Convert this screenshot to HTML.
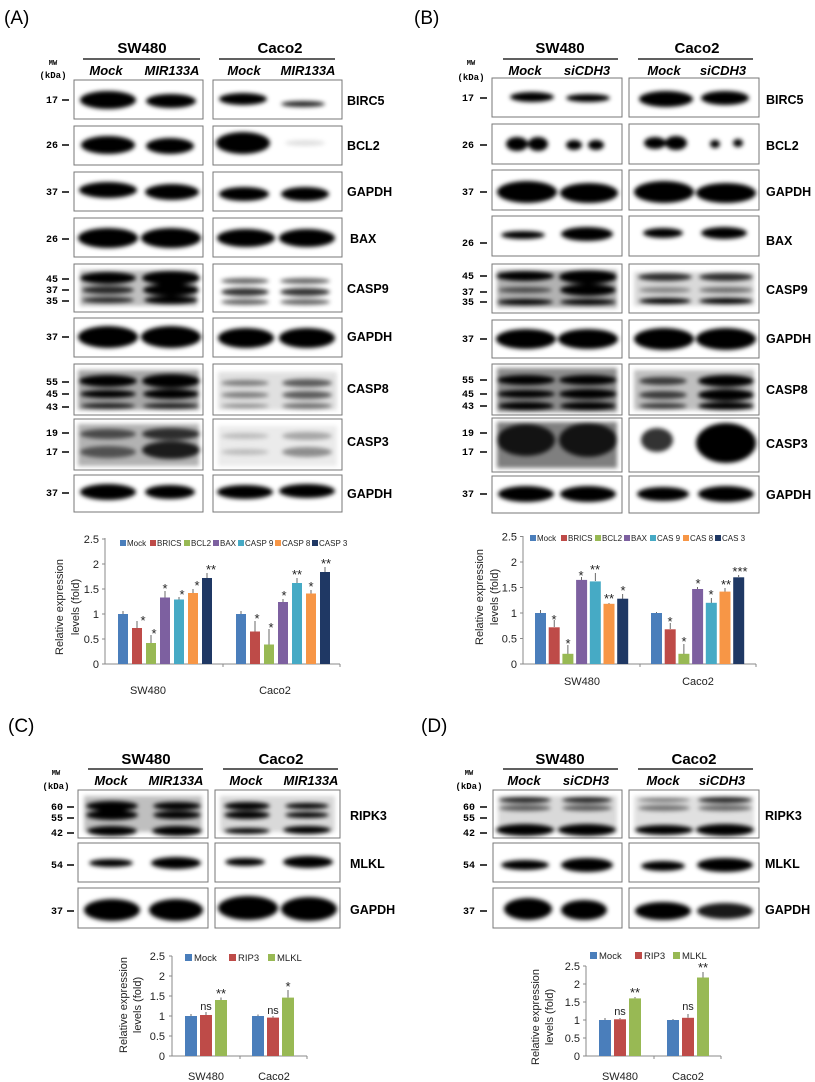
<!DOCTYPE html>
<html><head><meta charset="utf-8"><style>
html,body{margin:0;padding:0;background:#fff;}
svg{display:block;font-family:"Liberation Sans",sans-serif;}
.pl{font-size:19px;}
.t{font-size:15px;font-weight:bold;text-anchor:middle;}
.ln{font-size:13px;font-weight:bold;font-style:italic;text-anchor:middle;}
.mw{font-family:"Liberation Mono",monospace;font-size:10px;font-weight:bold;text-anchor:middle;}
.n{font-family:"Liberation Mono",monospace;font-size:10px;font-weight:bold;text-anchor:end;}
.lb{font-size:12.5px;font-weight:bold;}
.ax{font-size:11px;fill:#222;}
.tk{font-size:11px;fill:#222;text-anchor:end;}
.lg{font-size:8px;fill:#222;}
.st{font-size:13px;text-anchor:middle;fill:#222;}
.box{fill:#fff;stroke:#777;stroke-width:1;}
</style></head><body>
<svg width="815" height="1082" viewBox="0 0 815 1082" xmlns="http://www.w3.org/2000/svg">
<defs>
<filter id="b" x="-30%" y="-100%" width="160%" height="300%"><feGaussianBlur stdDeviation="2.2"/></filter>
</defs>
<rect width="815" height="1082" fill="#fff"/>

<!-- ================= PANEL A ================= -->
<text class="pl" x="4" y="24">(A)</text>
<text class="t" x="142" y="53">SW480</text>
<line x1="83" y1="59" x2="200" y2="59" stroke="#000" stroke-width="1.3"/>
<text class="t" x="280" y="53">Caco2</text>
<line x1="219" y1="59" x2="335" y2="59" stroke="#000" stroke-width="1.3"/>
<text class="ln" x="106" y="75">Mock</text><text class="ln" x="172" y="75">MIR133A</text>
<text class="ln" x="244" y="75">Mock</text><text class="ln" x="308" y="75">MIR133A</text>
<text class="mw" x="53" y="65" style="font-size:7px">MW</text><text class="mw" x="53" y="78" style="font-size:9px">(kDa)</text>

<g>
<rect class="box" x="74" y="80" width="129" height="39"/><rect class="box" x="213" y="80" width="129" height="39"/>
<rect class="box" x="74" y="126" width="129" height="39"/><rect class="box" x="213" y="126" width="129" height="39"/>
<rect class="box" x="74" y="172" width="129" height="39"/><rect class="box" x="213" y="172" width="129" height="39"/>
<rect class="box" x="74" y="218" width="129" height="39"/><rect class="box" x="213" y="218" width="129" height="39"/>
<rect class="box" x="74" y="264" width="129" height="48"/><rect class="box" x="213" y="264" width="129" height="48"/>
<rect class="box" x="74" y="318" width="129" height="39"/><rect class="box" x="213" y="318" width="129" height="39"/>
<rect class="box" x="74" y="364" width="129" height="51"/><rect class="box" x="213" y="364" width="129" height="51"/>
<rect class="box" x="74" y="419" width="129" height="51"/><rect class="box" x="213" y="419" width="129" height="51"/>
<rect class="box" x="74" y="475" width="129" height="37"/><rect class="box" x="213" y="475" width="129" height="37"/>
</g>
<g filter="url(#b)" fill="#000">
<ellipse cx="108" cy="100" rx="28" ry="9"/><ellipse cx="171" cy="101" rx="25" ry="7"/>
<ellipse cx="243" cy="99" rx="24" ry="6"/><ellipse cx="303" cy="104" rx="22" ry="3" opacity=".85"/>
<ellipse cx="108" cy="145" rx="27" ry="9"/><ellipse cx="170" cy="146" rx="24" ry="8"/>
<ellipse cx="243" cy="143" rx="27" ry="11"/><ellipse cx="305" cy="143" rx="20" ry="3" opacity=".12"/>
<ellipse cx="108" cy="190" rx="29" ry="8"/><ellipse cx="172" cy="192" rx="27" ry="8"/>
<ellipse cx="244" cy="194" rx="25" ry="7"/><ellipse cx="305" cy="194" rx="24" ry="7"/>
<ellipse cx="108" cy="238" rx="30" ry="10"/><ellipse cx="171" cy="238" rx="30" ry="10"/>
<ellipse cx="246" cy="238" rx="29" ry="9"/><ellipse cx="307" cy="238" rx="28" ry="9"/>
<rect x="80" y="270" width="117" height="36" opacity=".25"/>
<ellipse cx="108" cy="278" rx="28" ry="6"/><ellipse cx="171" cy="278" rx="29" ry="7"/>
<ellipse cx="108" cy="290" rx="26" ry="4" opacity=".8"/><ellipse cx="171" cy="290" rx="28" ry="6"/>
<ellipse cx="108" cy="300" rx="26" ry="3" opacity=".8"/><ellipse cx="171" cy="300" rx="27" ry="4"/>
<ellipse cx="245" cy="281" rx="24" ry="3" opacity=".6"/><ellipse cx="305" cy="281" rx="25" ry="3" opacity=".6"/>
<ellipse cx="245" cy="292" rx="24" ry="4" opacity=".8"/><ellipse cx="305" cy="292" rx="25" ry="4" opacity=".8"/>
<ellipse cx="245" cy="302" rx="24" ry="3" opacity=".6"/><ellipse cx="305" cy="302" rx="25" ry="3" opacity=".6"/>
<ellipse cx="108" cy="337" rx="30" ry="11"/><ellipse cx="171" cy="337" rx="30" ry="11"/>
<ellipse cx="246" cy="338" rx="28" ry="10"/><ellipse cx="307" cy="338" rx="28" ry="10"/>
<rect x="78" y="370" width="121" height="40" opacity=".35"/>
<ellipse cx="108" cy="381" rx="29" ry="6"/><ellipse cx="171" cy="381" rx="29" ry="7"/>
<ellipse cx="108" cy="394" rx="28" ry="4"/><ellipse cx="171" cy="394" rx="28" ry="5"/>
<ellipse cx="108" cy="406" rx="27" ry="3" opacity=".8"/><ellipse cx="171" cy="406" rx="28" ry="3" opacity=".8"/>
<rect x="218" y="372" width="119" height="38" opacity=".12"/>
<ellipse cx="245" cy="383" rx="24" ry="3" opacity=".45"/><ellipse cx="307" cy="383" rx="25" ry="4" opacity=".6"/>
<ellipse cx="245" cy="395" rx="24" ry="3" opacity=".45"/><ellipse cx="307" cy="395" rx="25" ry="4" opacity=".6"/>
<ellipse cx="245" cy="406" rx="24" ry="2" opacity=".4"/><ellipse cx="307" cy="406" rx="25" ry="3" opacity=".5"/>
<rect x="78" y="424" width="121" height="42" opacity=".3"/>
<ellipse cx="108" cy="434" rx="28" ry="5" opacity=".6"/><ellipse cx="171" cy="434" rx="29" ry="6" opacity=".75"/>
<ellipse cx="108" cy="452" rx="28" ry="6" opacity=".55"/><ellipse cx="171" cy="450" rx="29" ry="9" opacity=".85"/>
<rect x="218" y="426" width="119" height="40" opacity=".08"/>
<ellipse cx="245" cy="436" rx="24" ry="3" opacity=".2"/><ellipse cx="307" cy="436" rx="25" ry="4" opacity=".3"/>
<ellipse cx="245" cy="452" rx="24" ry="3" opacity=".2"/><ellipse cx="307" cy="452" rx="25" ry="5" opacity=".4"/>
<ellipse cx="108" cy="492" rx="28" ry="8"/><ellipse cx="170" cy="492" rx="25" ry="7"/>
<ellipse cx="245" cy="492" rx="28" ry="7"/><ellipse cx="307" cy="491" rx="28" ry="7"/>
</g>
<g>
<text class="n" x="58" y="103">17</text><line x1="62" y1="100" x2="69" y2="100" stroke="#000" stroke-width="1.5"/>
<text class="n" x="58" y="148">26</text><line x1="62" y1="145" x2="69" y2="145" stroke="#000" stroke-width="1.5"/>
<text class="n" x="58" y="195">37</text><line x1="62" y1="192" x2="69" y2="192" stroke="#000" stroke-width="1.5"/>
<text class="n" x="58" y="242">26</text><line x1="62" y1="239" x2="69" y2="239" stroke="#000" stroke-width="1.5"/>
<text class="n" x="58" y="282">45</text><line x1="62" y1="279" x2="69" y2="279" stroke="#000" stroke-width="1.5"/>
<text class="n" x="58" y="293">37</text><line x1="62" y1="290" x2="69" y2="290" stroke="#000" stroke-width="1.5"/>
<text class="n" x="58" y="304">35</text><line x1="62" y1="301" x2="69" y2="301" stroke="#000" stroke-width="1.5"/>
<text class="n" x="58" y="340">37</text><line x1="62" y1="337" x2="69" y2="337" stroke="#000" stroke-width="1.5"/>
<text class="n" x="58" y="385">55</text><line x1="62" y1="382" x2="69" y2="382" stroke="#000" stroke-width="1.5"/>
<text class="n" x="58" y="397">45</text><line x1="62" y1="394" x2="69" y2="394" stroke="#000" stroke-width="1.5"/>
<text class="n" x="58" y="410">43</text><line x1="62" y1="407" x2="69" y2="407" stroke="#000" stroke-width="1.5"/>
<text class="n" x="58" y="436">19</text><line x1="62" y1="433" x2="69" y2="433" stroke="#000" stroke-width="1.5"/>
<text class="n" x="58" y="455">17</text><line x1="62" y1="452" x2="69" y2="452" stroke="#000" stroke-width="1.5"/>
<text class="n" x="58" y="496">37</text><line x1="62" y1="493" x2="69" y2="493" stroke="#000" stroke-width="1.5"/>
</g>
<text class="lb" x="347" y="105">BIRC5</text><text class="lb" x="347" y="150">BCL2</text><text class="lb" x="347" y="196">GAPDH</text>
<text class="lb" x="350" y="243">BAX</text><text class="lb" x="347" y="293">CASP9</text><text class="lb" x="347" y="341">GAPDH</text>
<text class="lb" x="347" y="393">CASP8</text><text class="lb" x="347" y="446">CASP3</text><text class="lb" x="347" y="498">GAPDH</text>

<!-- Chart A -->
<g>
<line x1="105" y1="538" x2="105" y2="664" stroke="#888"/>
<line x1="105" y1="664" x2="340" y2="664" stroke="#888"/>
<line x1="223" y1="664" x2="223" y2="667" stroke="#888"/><line x1="340" y1="664" x2="340" y2="667" stroke="#888"/>
<g stroke="#888"><line x1="102" y1="664" x2="105" y2="664"/><line x1="102" y1="639" x2="105" y2="639"/><line x1="102" y1="614" x2="105" y2="614"/><line x1="102" y1="589" x2="105" y2="589"/><line x1="102" y1="564" x2="105" y2="564"/><line x1="102" y1="539" x2="105" y2="539"/></g>
<text class="tk" x="99" y="668">0</text><text class="tk" x="99" y="643">0.5</text><text class="tk" x="99" y="618">1</text><text class="tk" x="99" y="593">1.5</text><text class="tk" x="99" y="568">2</text><text class="tk" x="99" y="543">2.5</text>
<text class="ax" text-anchor="middle" transform="translate(63,607) rotate(-90)">Relative expression</text>
<text class="ax" text-anchor="middle" transform="translate(79,607) rotate(-90)">levels (fold)</text>
<text class="ax" x="148" y="694" text-anchor="middle">SW480</text><text class="ax" x="275" y="694" text-anchor="middle">Caco2</text>
<g class="lg">
<rect x="120" y="540" width="6" height="6" fill="#4a7ebb"/><text x="127" y="546">Mock</text>
<rect x="150" y="540" width="6" height="6" fill="#be4b48"/><text x="157" y="546">BRICS</text>
<rect x="184" y="540" width="6" height="6" fill="#98b954"/><text x="191" y="546">BCL2</text>
<rect x="213" y="540" width="6" height="6" fill="#7d60a0"/><text x="220" y="546">BAX</text>
<rect x="238" y="540" width="6" height="6" fill="#46aac5"/><text x="245" y="546">CASP 9</text>
<rect x="275" y="540" width="6" height="6" fill="#f79646"/><text x="282" y="546">CASP 8</text>
<rect x="312" y="540" width="6" height="6" fill="#1f3864"/><text x="319" y="546">CASP 3</text>
</g>
<g stroke="#444" stroke-width="0.8">
<line x1="123" y1="614" x2="123" y2="611"/><line x1="137" y1="628" x2="137" y2="621"/><line x1="151" y1="643" x2="151" y2="635"/><line x1="165" y1="597.5" x2="165" y2="591"/><line x1="179" y1="599.5" x2="179" y2="597"/><line x1="193" y1="593" x2="193" y2="589"/><line x1="207" y1="578" x2="207" y2="573"/>
<line x1="241" y1="614" x2="241" y2="611"/><line x1="255" y1="631.5" x2="255" y2="621"/><line x1="269" y1="644.5" x2="269" y2="629"/><line x1="283" y1="602" x2="283" y2="599"/><line x1="297" y1="583" x2="297" y2="578"/><line x1="311" y1="593.5" x2="311" y2="590"/><line x1="325" y1="572" x2="325" y2="567"/>
</g>
<rect x="118" y="614" width="10" height="50" fill="#4a7ebb"/><rect x="132" y="628" width="10" height="36" fill="#be4b48"/><rect x="146" y="643" width="10" height="21" fill="#98b954"/><rect x="160" y="597.5" width="10" height="66.5" fill="#7d60a0"/><rect x="174" y="599.5" width="10" height="64.5" fill="#46aac5"/><rect x="188" y="593" width="10" height="71" fill="#f79646"/><rect x="202" y="578" width="10" height="86" fill="#1f3864"/>
<rect x="236" y="614" width="10" height="50" fill="#4a7ebb"/><rect x="250" y="631.5" width="10" height="32.5" fill="#be4b48"/><rect x="264" y="644.5" width="10" height="19.5" fill="#98b954"/><rect x="278" y="602" width="10" height="62" fill="#7d60a0"/><rect x="292" y="583" width="10" height="81" fill="#46aac5"/><rect x="306" y="593.5" width="10" height="70.5" fill="#f79646"/><rect x="320" y="572" width="10" height="92" fill="#1f3864"/>
<g class="st">
<text x="143" y="625">*</text><text x="154" y="638">*</text><text x="165" y="593">*</text><text x="182" y="599">*</text><text x="197" y="590">*</text><text x="211" y="574">**</text>
<text x="257" y="623">*</text><text x="271" y="632">*</text><text x="284" y="600">*</text><text x="297" y="579">**</text><text x="311" y="591">*</text><text x="326" y="568">**</text>
</g>
</g>

<!-- ================= PANEL B ================= -->
<text class="pl" x="414" y="24">(B)</text>
<text class="t" x="560" y="53">SW480</text>
<line x1="503" y1="59" x2="618" y2="59" stroke="#000" stroke-width="1.3"/>
<text class="t" x="697" y="53">Caco2</text>
<line x1="638" y1="59" x2="753" y2="59" stroke="#000" stroke-width="1.3"/>
<text class="ln" x="525" y="75">Mock</text><text class="ln" x="587" y="75">siCDH3</text>
<text class="ln" x="664" y="75">Mock</text><text class="ln" x="723" y="75">siCDH3</text>
<text class="mw" x="471" y="65" style="font-size:7px">MW</text><text class="mw" x="471" y="80" style="font-size:9px">(kDa)</text>
<g>
<rect class="box" x="492" y="78" width="130" height="39"/><rect class="box" x="629" y="78" width="130" height="39"/>
<rect class="box" x="492" y="124" width="130" height="40"/><rect class="box" x="629" y="124" width="130" height="40"/>
<rect class="box" x="492" y="170" width="130" height="40"/><rect class="box" x="629" y="170" width="130" height="40"/>
<rect class="box" x="492" y="216" width="130" height="40"/><rect class="box" x="629" y="216" width="130" height="40"/>
<rect class="box" x="492" y="264" width="130" height="49"/><rect class="box" x="629" y="264" width="130" height="49"/>
<rect class="box" x="492" y="320" width="130" height="38"/><rect class="box" x="629" y="320" width="130" height="38"/>
<rect class="box" x="492" y="364" width="130" height="51"/><rect class="box" x="629" y="364" width="130" height="51"/>
<rect class="box" x="492" y="418" width="130" height="54"/><rect class="box" x="629" y="418" width="130" height="54"/>
<rect class="box" x="492" y="476" width="130" height="37"/><rect class="box" x="629" y="476" width="130" height="37"/>
</g>
<g filter="url(#b)" fill="#000">
<ellipse cx="532" cy="97" rx="22" ry="5"/><ellipse cx="588" cy="98" rx="22" ry="4"/>
<ellipse cx="666" cy="99" rx="27" ry="8"/><ellipse cx="725" cy="98" rx="24" ry="7"/>
<ellipse cx="517" cy="144" rx="11" ry="7"/><ellipse cx="538" cy="144" rx="10" ry="7"/><ellipse cx="574" cy="145" rx="8" ry="5"/><ellipse cx="596" cy="145" rx="8" ry="5"/>
<ellipse cx="655" cy="143" rx="11" ry="6"/><ellipse cx="676" cy="143" rx="11" ry="7"/><ellipse cx="715" cy="144" rx="5" ry="4"/><ellipse cx="738" cy="143" rx="5" ry="4"/>
<ellipse cx="527" cy="192" rx="30" ry="11"/><ellipse cx="589" cy="193" rx="29" ry="10"/>
<ellipse cx="664" cy="192" rx="30" ry="11"/><ellipse cx="726" cy="193" rx="30" ry="10"/>
<ellipse cx="523" cy="235" rx="22" ry="4"/><ellipse cx="587" cy="234" rx="26" ry="7"/>
<ellipse cx="663" cy="233" rx="20" ry="5"/><ellipse cx="724" cy="233" rx="23" ry="6"/>
<rect x="497" y="270" width="120" height="38" opacity=".3"/>
<ellipse cx="525" cy="276" rx="29" ry="5"/><ellipse cx="588" cy="277" rx="29" ry="7"/>
<ellipse cx="525" cy="290" rx="27" ry="3" opacity=".6"/><ellipse cx="588" cy="290" rx="28" ry="6"/>
<ellipse cx="525" cy="302" rx="28" ry="3"/><ellipse cx="588" cy="302" rx="28" ry="3"/>
<rect x="634" y="272" width="120" height="34" opacity=".15"/>
<ellipse cx="665" cy="277" rx="27" ry="4" opacity=".8"/><ellipse cx="726" cy="277" rx="27" ry="4" opacity=".8"/>
<ellipse cx="665" cy="290" rx="26" ry="3" opacity=".4"/><ellipse cx="726" cy="290" rx="27" ry="3" opacity=".5"/>
<ellipse cx="665" cy="301" rx="26" ry="3"/><ellipse cx="726" cy="301" rx="27" ry="3"/>
<ellipse cx="526" cy="339" rx="30" ry="10"/><ellipse cx="588" cy="339" rx="30" ry="10"/>
<ellipse cx="664" cy="339" rx="30" ry="11"/><ellipse cx="726" cy="339" rx="30" ry="11"/>
<rect x="497" y="368" width="120" height="44" opacity=".45"/>
<ellipse cx="526" cy="380" rx="29" ry="5"/><ellipse cx="588" cy="380" rx="29" ry="5"/>
<ellipse cx="526" cy="394" rx="29" ry="4"/><ellipse cx="588" cy="394" rx="29" ry="5"/>
<ellipse cx="526" cy="406" rx="28" ry="4"/><ellipse cx="588" cy="406" rx="28" ry="4"/>
<rect x="634" y="370" width="120" height="40" opacity=".25"/>
<ellipse cx="663" cy="381" rx="24" ry="4" opacity=".7"/><ellipse cx="726" cy="381" rx="28" ry="6"/>
<ellipse cx="663" cy="395" rx="24" ry="4" opacity=".7"/><ellipse cx="726" cy="395" rx="28" ry="6"/>
<ellipse cx="663" cy="406" rx="24" ry="3" opacity=".7"/><ellipse cx="726" cy="406" rx="28" ry="4"/>
<rect x="497" y="422" width="120" height="46" opacity=".5"/>
<ellipse cx="526" cy="440" rx="29" ry="16" opacity=".85"/><ellipse cx="588" cy="440" rx="29" ry="17" opacity=".85"/>
<ellipse cx="657" cy="440" rx="16" ry="12" opacity=".8"/><ellipse cx="726" cy="443" rx="30" ry="20"/>
<ellipse cx="526" cy="494" rx="28" ry="8"/><ellipse cx="588" cy="494" rx="28" ry="8"/>
<ellipse cx="663" cy="494" rx="26" ry="7"/><ellipse cx="726" cy="494" rx="28" ry="8"/>
</g>
<g>
<text class="n" x="474" y="101">17</text><line x1="480" y1="98" x2="487" y2="98" stroke="#000" stroke-width="1.5"/>
<text class="n" x="474" y="148">26</text><line x1="480" y1="145" x2="487" y2="145" stroke="#000" stroke-width="1.5"/>
<text class="n" x="474" y="195">37</text><line x1="480" y1="192" x2="487" y2="192" stroke="#000" stroke-width="1.5"/>
<text class="n" x="474" y="246">26</text><line x1="480" y1="243" x2="487" y2="243" stroke="#000" stroke-width="1.5"/>
<text class="n" x="474" y="279">45</text><line x1="480" y1="276" x2="487" y2="276" stroke="#000" stroke-width="1.5"/>
<text class="n" x="474" y="295">37</text><line x1="480" y1="292" x2="487" y2="292" stroke="#000" stroke-width="1.5"/>
<text class="n" x="474" y="305">35</text><line x1="480" y1="302" x2="487" y2="302" stroke="#000" stroke-width="1.5"/>
<text class="n" x="474" y="342">37</text><line x1="480" y1="339" x2="487" y2="339" stroke="#000" stroke-width="1.5"/>
<text class="n" x="474" y="383">55</text><line x1="480" y1="380" x2="487" y2="380" stroke="#000" stroke-width="1.5"/>
<text class="n" x="474" y="397">45</text><line x1="480" y1="394" x2="487" y2="394" stroke="#000" stroke-width="1.5"/>
<text class="n" x="474" y="409">43</text><line x1="480" y1="406" x2="487" y2="406" stroke="#000" stroke-width="1.5"/>
<text class="n" x="474" y="436">19</text><line x1="480" y1="433" x2="487" y2="433" stroke="#000" stroke-width="1.5"/>
<text class="n" x="474" y="455">17</text><line x1="480" y1="452" x2="487" y2="452" stroke="#000" stroke-width="1.5"/>
<text class="n" x="474" y="497">37</text><line x1="480" y1="494" x2="487" y2="494" stroke="#000" stroke-width="1.5"/>
</g>
<text class="lb" x="766" y="104">BIRC5</text><text class="lb" x="766" y="150">BCL2</text><text class="lb" x="766" y="196">GAPDH</text>
<text class="lb" x="766" y="245">BAX</text><text class="lb" x="766" y="294">CASP9</text><text class="lb" x="766" y="343">GAPDH</text>
<text class="lb" x="766" y="394">CASP8</text><text class="lb" x="766" y="448">CASP3</text><text class="lb" x="766" y="499">GAPDH</text>

<!-- Chart B -->
<g>
<line x1="523" y1="536" x2="523" y2="664" stroke="#888"/>
<line x1="523" y1="664" x2="756" y2="664" stroke="#888"/>
<line x1="640" y1="664" x2="640" y2="667" stroke="#888"/><line x1="756" y1="664" x2="756" y2="667" stroke="#888"/>
<g stroke="#888"><line x1="520" y1="664" x2="523" y2="664"/><line x1="520" y1="638.5" x2="523" y2="638.5"/><line x1="520" y1="613" x2="523" y2="613"/><line x1="520" y1="587.5" x2="523" y2="587.5"/><line x1="520" y1="562" x2="523" y2="562"/><line x1="520" y1="536.5" x2="523" y2="536.5"/></g>
<text class="tk" x="517" y="668">0</text><text class="tk" x="517" y="642.5">0.5</text><text class="tk" x="517" y="617">1</text><text class="tk" x="517" y="591.5">1.5</text><text class="tk" x="517" y="566">2</text><text class="tk" x="517" y="540.5">2.5</text>
<text class="ax" text-anchor="middle" transform="translate(483,597) rotate(-90)">Relative expression</text>
<text class="ax" text-anchor="middle" transform="translate(498,597) rotate(-90)">levels (fold)</text>
<text class="ax" x="582" y="685" text-anchor="middle">SW480</text><text class="ax" x="698" y="685" text-anchor="middle">Caco2</text>
<g class="lg">
<rect x="530" y="535" width="6" height="6" fill="#4a7ebb"/><text x="537" y="541">Mock</text>
<rect x="561" y="535" width="6" height="6" fill="#be4b48"/><text x="568" y="541">BRICS</text>
<rect x="595" y="535" width="6" height="6" fill="#98b954"/><text x="602" y="541">BCL2</text>
<rect x="624" y="535" width="6" height="6" fill="#7d60a0"/><text x="631" y="541">BAX</text>
<rect x="650" y="535" width="6" height="6" fill="#46aac5"/><text x="657" y="541">CAS 9</text>
<rect x="683" y="535" width="6" height="6" fill="#f79646"/><text x="690" y="541">CAS 8</text>
<rect x="715" y="535" width="6" height="6" fill="#1f3864"/><text x="722" y="541">CAS 3</text>
</g>
<g stroke="#444" stroke-width="0.8">
<line x1="540.5" y1="613" x2="540.5" y2="610"/><line x1="554.2" y1="627" x2="554.2" y2="620"/><line x1="567.9" y1="654" x2="567.9" y2="645"/><line x1="581.6" y1="580" x2="581.6" y2="577"/><line x1="595.3" y1="581" x2="595.3" y2="573"/><line x1="609" y1="604" x2="609" y2="603"/><line x1="622.7" y1="599" x2="622.7" y2="594"/>
<line x1="656.5" y1="613" x2="656.5" y2="612"/><line x1="670.2" y1="629" x2="670.2" y2="623"/><line x1="683.9" y1="654" x2="683.9" y2="644"/><line x1="697.6" y1="589" x2="697.6" y2="587"/><line x1="711.3" y1="603" x2="711.3" y2="598"/><line x1="725" y1="592" x2="725" y2="588"/><line x1="738.7" y1="577" x2="738.7" y2="575"/>
</g>
<rect x="535" y="613" width="11" height="51" fill="#4a7ebb"/><rect x="548.7" y="627.3" width="11" height="36.7" fill="#be4b48"/><rect x="562.4" y="653.8" width="11" height="10.2" fill="#98b954"/><rect x="576.1" y="579.9" width="11" height="84.1" fill="#7d60a0"/><rect x="589.8" y="581.4" width="11" height="82.6" fill="#46aac5"/><rect x="603.5" y="603.8" width="11" height="60.2" fill="#f79646"/><rect x="617.2" y="598.7" width="11" height="65.3" fill="#1f3864"/>
<rect x="651" y="613" width="11" height="51" fill="#4a7ebb"/><rect x="664.7" y="629.3" width="11" height="34.7" fill="#be4b48"/><rect x="678.4" y="653.8" width="11" height="10.2" fill="#98b954"/><rect x="692.1" y="589" width="11" height="75" fill="#7d60a0"/><rect x="705.8" y="602.8" width="11" height="61.2" fill="#46aac5"/><rect x="719.5" y="591.6" width="11" height="72.4" fill="#f79646"/><rect x="733.2" y="577.3" width="11" height="86.7" fill="#1f3864"/>
<g class="st">
<text x="554" y="624">*</text><text x="568" y="648">*</text><text x="581" y="580">*</text><text x="595" y="574">**</text><text x="609" y="603">**</text><text x="623" y="595">*</text>
<text x="670" y="626">*</text><text x="684" y="646">*</text><text x="698" y="588">*</text><text x="711" y="599">*</text><text x="726" y="589">**</text><text x="740" y="576">***</text>
</g>
</g>

<!-- ================= PANEL C ================= -->
<text class="pl" x="8" y="732">(C)</text>
<text class="t" x="146" y="764">SW480</text>
<line x1="88" y1="769" x2="203" y2="769" stroke="#000" stroke-width="1.3"/>
<text class="t" x="281" y="764">Caco2</text>
<line x1="223" y1="769" x2="338" y2="769" stroke="#000" stroke-width="1.3"/>
<text class="ln" x="111" y="785">Mock</text><text class="ln" x="176" y="785">MIR133A</text>
<text class="ln" x="246" y="785">Mock</text><text class="ln" x="311" y="785">MIR133A</text>
<text class="mw" x="56" y="775" style="font-size:7px">MW</text><text class="mw" x="56" y="789" style="font-size:9px">(kDa)</text>
<rect class="box" x="78" y="790" width="130" height="48"/><rect class="box" x="215" y="790" width="125" height="48"/>
<rect class="box" x="78" y="843" width="130" height="39"/><rect class="box" x="215" y="843" width="125" height="39"/>
<rect class="box" x="78" y="888" width="130" height="40"/><rect class="box" x="215" y="888" width="125" height="40"/>
<g filter="url(#b)" fill="#000">
<rect x="84" y="796" width="118" height="36" opacity=".25"/>
<ellipse cx="112" cy="806" rx="26" ry="5"/><ellipse cx="177" cy="806" rx="24" ry="4"/>
<ellipse cx="112" cy="815" rx="26" ry="5"/><ellipse cx="177" cy="815" rx="24" ry="4"/>
<ellipse cx="112" cy="831" rx="25" ry="5"/><ellipse cx="177" cy="831" rx="25" ry="5"/>
<rect x="220" y="796" width="115" height="36" opacity=".15"/>
<ellipse cx="247" cy="806" rx="23" ry="4"/><ellipse cx="307" cy="806" rx="22" ry="3"/>
<ellipse cx="247" cy="815" rx="23" ry="4"/><ellipse cx="307" cy="815" rx="22" ry="3"/>
<ellipse cx="247" cy="831" rx="23" ry="3"/><ellipse cx="307" cy="830" rx="24" ry="4"/>
<ellipse cx="111" cy="863" rx="22" ry="4"/><ellipse cx="176" cy="863" rx="25" ry="6"/>
<ellipse cx="245" cy="862" rx="20" ry="4"/><ellipse cx="308" cy="862" rx="25" ry="6"/>
<ellipse cx="112" cy="910" rx="28" ry="11"/><ellipse cx="176" cy="910" rx="27" ry="11"/>
<ellipse cx="248" cy="908" rx="30" ry="12"/><ellipse cx="309" cy="909" rx="28" ry="12"/>
</g>
<text class="n" x="63" y="810">60</text><line x1="67" y1="807" x2="74" y2="807" stroke="#000" stroke-width="1.5"/>
<text class="n" x="63" y="821">55</text><line x1="67" y1="818" x2="74" y2="818" stroke="#000" stroke-width="1.5"/>
<text class="n" x="63" y="836">42</text><line x1="67" y1="833" x2="74" y2="833" stroke="#000" stroke-width="1.5"/>
<text class="n" x="63" y="868">54</text><line x1="67" y1="865" x2="74" y2="865" stroke="#000" stroke-width="1.5"/>
<text class="n" x="63" y="914">37</text><line x1="67" y1="911" x2="74" y2="911" stroke="#000" stroke-width="1.5"/>
<text class="lb" x="350" y="820">RIPK3</text><text class="lb" x="350" y="868">MLKL</text><text class="lb" x="350" y="914">GAPDH</text>

<!-- Chart C -->
<g>
<line x1="172" y1="956" x2="172" y2="1056" stroke="#888"/>
<line x1="172" y1="1056" x2="307" y2="1056" stroke="#888"/>
<line x1="240" y1="1056" x2="240" y2="1059" stroke="#888"/><line x1="307" y1="1056" x2="307" y2="1059" stroke="#888"/>
<g stroke="#888"><line x1="169" y1="1056" x2="172" y2="1056"/><line x1="169" y1="1036" x2="172" y2="1036"/><line x1="169" y1="1016" x2="172" y2="1016"/><line x1="169" y1="996" x2="172" y2="996"/><line x1="169" y1="976" x2="172" y2="976"/><line x1="169" y1="956" x2="172" y2="956"/></g>
<text class="tk" x="165" y="1060">0</text><text class="tk" x="165" y="1040">0.5</text><text class="tk" x="165" y="1020">1</text><text class="tk" x="165" y="1000">1.5</text><text class="tk" x="165" y="980">2</text><text class="tk" x="165" y="960">2.5</text>
<text class="ax" text-anchor="middle" transform="translate(127,1005) rotate(-90)">Relative expression</text>
<text class="ax" text-anchor="middle" transform="translate(141,1005) rotate(-90)">levels (fold)</text>
<text class="ax" x="206" y="1080" text-anchor="middle">SW480</text><text class="ax" x="274" y="1080" text-anchor="middle">Caco2</text>
<g class="lg" style="font-size:9.5px">
<rect x="185" y="954" width="7" height="7" fill="#4a7ebb"/><text x="194" y="961">Mock</text>
<rect x="229" y="954" width="7" height="7" fill="#be4b48"/><text x="238" y="961">RIP3</text>
<rect x="268" y="954" width="7" height="7" fill="#98b954"/><text x="277" y="961">MLKL</text>
</g>
<g stroke="#444" stroke-width="0.8">
<line x1="191" y1="1016" x2="191" y2="1014"/><line x1="206" y1="1015" x2="206" y2="1012"/><line x1="221" y1="1000" x2="221" y2="997.5"/>
<line x1="258" y1="1016" x2="258" y2="1014.5"/><line x1="273" y1="1017.6" x2="273" y2="1016"/><line x1="288" y1="997.6" x2="288" y2="990"/>
</g>
<rect x="185" y="1016" width="12" height="40" fill="#4a7ebb"/><rect x="200" y="1015" width="12" height="41" fill="#be4b48"/><rect x="215" y="1000" width="12" height="56" fill="#98b954"/>
<rect x="252" y="1016" width="12" height="40" fill="#4a7ebb"/><rect x="267" y="1017.6" width="12" height="38.4" fill="#be4b48"/><rect x="282" y="997.6" width="12" height="58.4" fill="#98b954"/>
<g class="st"><text x="206" y="1010" style="font-size:11px">ns</text><text x="221" y="998">**</text><text x="273" y="1014" style="font-size:11px">ns</text><text x="288" y="991">*</text></g>
</g>

<!-- ================= PANEL D ================= -->
<text class="pl" x="421" y="732">(D)</text>
<text class="t" x="560" y="764">SW480</text>
<line x1="503" y1="769" x2="618" y2="769" stroke="#000" stroke-width="1.3"/>
<text class="t" x="694" y="764">Caco2</text>
<line x1="638" y1="769" x2="753" y2="769" stroke="#000" stroke-width="1.3"/>
<text class="ln" x="524" y="785">Mock</text><text class="ln" x="586" y="785">siCDH3</text>
<text class="ln" x="663" y="785">Mock</text><text class="ln" x="722" y="785">siCDH3</text>
<text class="mw" x="469" y="775" style="font-size:7px">MW</text><text class="mw" x="469" y="789" style="font-size:9px">(kDa)</text>
<rect class="box" x="493" y="790" width="129" height="48"/><rect class="box" x="629" y="790" width="130" height="48"/>
<rect class="box" x="493" y="843" width="129" height="39"/><rect class="box" x="629" y="843" width="130" height="39"/>
<rect class="box" x="493" y="888" width="129" height="40"/><rect class="box" x="629" y="888" width="130" height="40"/>
<g filter="url(#b)" fill="#000">
<rect x="498" y="796" width="119" height="36" opacity=".15"/>
<ellipse cx="525" cy="800" rx="26" ry="3" opacity=".85"/><ellipse cx="587" cy="800" rx="25" ry="3" opacity=".85"/>
<ellipse cx="525" cy="808" rx="26" ry="3" opacity=".6"/><ellipse cx="587" cy="808" rx="25" ry="3" opacity=".6"/>
<ellipse cx="525" cy="830" rx="29" ry="6"/><ellipse cx="587" cy="830" rx="29" ry="6"/>
<rect x="634" y="796" width="120" height="36" opacity=".12"/>
<ellipse cx="664" cy="800" rx="26" ry="2" opacity=".5"/><ellipse cx="725" cy="800" rx="27" ry="3" opacity=".85"/>
<ellipse cx="664" cy="808" rx="26" ry="3" opacity=".5"/><ellipse cx="725" cy="808" rx="27" ry="3" opacity=".55"/>
<ellipse cx="664" cy="830" rx="29" ry="5"/><ellipse cx="725" cy="830" rx="29" ry="6"/>
<ellipse cx="525" cy="865" rx="24" ry="5"/><ellipse cx="587" cy="865" rx="26" ry="7"/>
<ellipse cx="663" cy="866" rx="22" ry="5"/><ellipse cx="725" cy="865" rx="28" ry="7"/>
<ellipse cx="528" cy="909" rx="24" ry="11"/><ellipse cx="584" cy="910" rx="23" ry="10"/>
<ellipse cx="663" cy="911" rx="28" ry="9"/><ellipse cx="725" cy="911" rx="28" ry="8" opacity=".9"/>
</g>
<text class="n" x="475" y="810">60</text><line x1="480" y1="807" x2="487" y2="807" stroke="#000" stroke-width="1.5"/>
<text class="n" x="475" y="821">55</text><line x1="480" y1="818" x2="487" y2="818" stroke="#000" stroke-width="1.5"/>
<text class="n" x="475" y="836">42</text><line x1="480" y1="833" x2="487" y2="833" stroke="#000" stroke-width="1.5"/>
<text class="n" x="475" y="868">54</text><line x1="480" y1="865" x2="487" y2="865" stroke="#000" stroke-width="1.5"/>
<text class="n" x="475" y="914">37</text><line x1="480" y1="911" x2="487" y2="911" stroke="#000" stroke-width="1.5"/>
<text class="lb" x="765" y="820">RIPK3</text><text class="lb" x="765" y="868">MLKL</text><text class="lb" x="765" y="914">GAPDH</text>

<!-- Chart D -->
<g>
<line x1="586" y1="966" x2="586" y2="1056" stroke="#888"/>
<line x1="586" y1="1056" x2="721" y2="1056" stroke="#888"/>
<line x1="654" y1="1056" x2="654" y2="1059" stroke="#888"/><line x1="721" y1="1056" x2="721" y2="1059" stroke="#888"/>
<g stroke="#888"><line x1="583" y1="1056" x2="586" y2="1056"/><line x1="583" y1="1038" x2="586" y2="1038"/><line x1="583" y1="1020" x2="586" y2="1020"/><line x1="583" y1="1002" x2="586" y2="1002"/><line x1="583" y1="984" x2="586" y2="984"/><line x1="583" y1="966" x2="586" y2="966"/></g>
<text class="tk" x="580" y="1060">0</text><text class="tk" x="580" y="1042">0.5</text><text class="tk" x="580" y="1024">1</text><text class="tk" x="580" y="1006">1.5</text><text class="tk" x="580" y="988">2</text><text class="tk" x="580" y="970">2.5</text>
<text class="ax" text-anchor="middle" transform="translate(539,1017) rotate(-90)">Relative expression</text>
<text class="ax" text-anchor="middle" transform="translate(553,1017) rotate(-90)">levels (fold)</text>
<text class="ax" x="620" y="1080" text-anchor="middle">SW480</text><text class="ax" x="688" y="1080" text-anchor="middle">Caco2</text>
<g class="lg" style="font-size:9.5px">
<rect x="590" y="952" width="7" height="7" fill="#4a7ebb"/><text x="599" y="959">Mock</text>
<rect x="635" y="952" width="7" height="7" fill="#be4b48"/><text x="644" y="959">RIP3</text>
<rect x="673" y="952" width="7" height="7" fill="#98b954"/><text x="682" y="959">MLKL</text>
</g>
<g stroke="#444" stroke-width="0.8">
<line x1="605" y1="1020" x2="605" y2="1018"/><line x1="620" y1="1019.3" x2="620" y2="1018"/><line x1="635" y1="998.4" x2="635" y2="997"/>
<line x1="673" y1="1020" x2="673" y2="1019"/><line x1="688" y1="1017.8" x2="688" y2="1014"/><line x1="703" y1="977.5" x2="703" y2="972"/>
</g>
<rect x="599" y="1020" width="12" height="36" fill="#4a7ebb"/><rect x="614" y="1019.3" width="12" height="36.7" fill="#be4b48"/><rect x="629" y="998.4" width="12" height="57.6" fill="#98b954"/>
<rect x="667" y="1020" width="12" height="36" fill="#4a7ebb"/><rect x="682" y="1017.8" width="12" height="38.2" fill="#be4b48"/><rect x="697" y="977.5" width="12" height="78.5" fill="#98b954"/>
<g class="st"><text x="620" y="1015" style="font-size:11px">ns</text><text x="635" y="997">**</text><text x="688" y="1010" style="font-size:11px">ns</text><text x="703" y="972">**</text></g>
</g>
</svg>
</body></html>
